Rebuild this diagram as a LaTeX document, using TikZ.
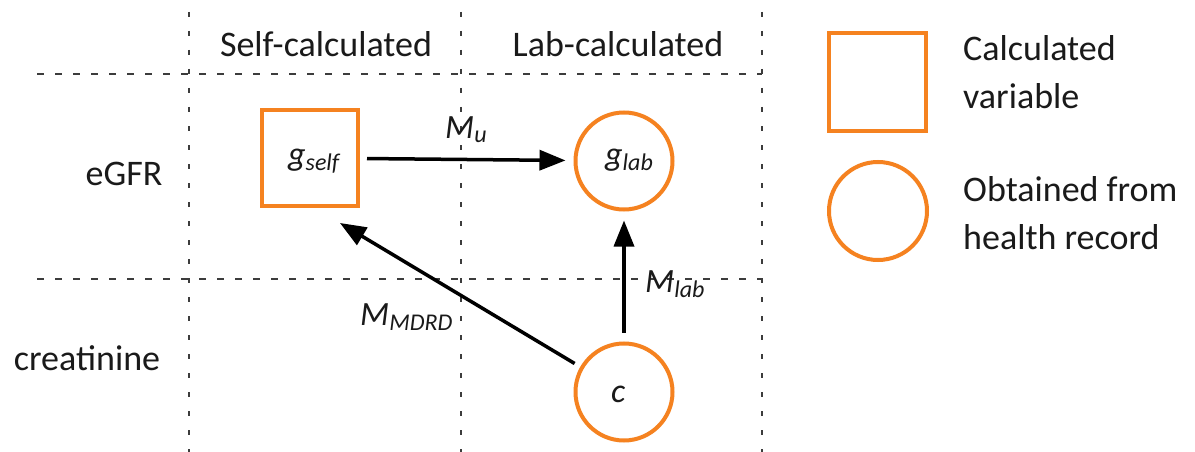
\documentclass[tikz,border=0pt]{standalone}
\usepackage{fontspec}
\setmainfont{Carlito}
\usetikzlibrary{arrows.meta,calc}
\definecolor{orng}{RGB}{245,130,32}
\definecolor{txt}{RGB}{26,26,26}
\definecolor{dsh}{RGB}{60,60,60}
\newcommand{\mlab}[2]{{\fontsize{34}{34}\selectfont\itshape #1\raisebox{-5pt}{\fontsize{24}{24}\selectfont #2}}}
\begin{document}
\begin{tikzpicture}[x=1pt,y=-1pt,
  vdash/.style={draw=dsh,line width=1.4pt,dash pattern=on 5pt off 14pt},
  hdash/.style={draw=dsh,line width=1.4pt,dash pattern=on 7pt off 11pt},
  sq/.style={draw=orng,line width=4pt,rectangle,minimum size=96pt,inner sep=0pt},
  circ/.style={draw=orng,line width=4pt,circle,minimum size=97pt,inner sep=0pt},
  arr/.style={line width=3.5pt,draw=black,-{Triangle[length=26pt,width=20pt]}},
  lbl/.style={text=txt,inner sep=0pt,font=\fontsize{36}{36}\selectfont},
  leg/.style={text=txt,inner sep=0pt,align=left,font=\fontsize{36}{48}\selectfont},
  ml/.style={text=txt,inner sep=0pt,anchor=base west}
]
\useasboundingbox[fill=white] (0,0) rectangle (1195,452);
% grid
\coordinate (v1t) at (189,12); \coordinate (v1b) at (189,452);
\coordinate (v2t) at (461,12); \coordinate (v2b) at (461,452);
\coordinate (v3t) at (762,12); \coordinate (v3b) at (762,452);
\coordinate (h1l) at (37,74);  \coordinate (h1r) at (762,74);
\coordinate (h2l) at (37,279); \coordinate (h2r) at (762,279);
\draw[vdash] (v1t) -- (v1b);
\draw[vdash] (v2t) -- (v2b);
\draw[vdash] (v3t) -- (v3b);
\draw[hdash] (h1l) -- (h1r);
\draw[hdash] (h2l) -- (h2r);
% headers
\node[lbl,anchor=base] (hself) at (326,57) {Self-calculated};
\node[lbl,anchor=base] (hlab) at (618,57) {Lab-calculated};
\node[lbl,anchor=base] (regfr) at (124,185) {eGFR};
\node[lbl,anchor=base] (rcre) at (87,370) {creatinine};
% nodes
\node[sq] (gself) at (310,158) {};
\node[circ] (glab) at (624,161) {};
\node[circ] (c) at (624,392) {};
\node[ml] (tgself) at (288,165) {\mlab{g}{self}};
\node[ml] (tglab) at (605,165) {\mlab{g}{lab}};
\node[ml] (tc) at (611,402) {\fontsize{34}{34}\selectfont\itshape c};
% arrows
\draw[arr,shorten <=7pt,shorten >=8pt] (gself) -- (glab);
\draw[arr,shorten <=9pt,shorten >=9pt] (c.north) -- (glab.south);
\draw[arr] ($(c.center)+(210:57)$) -- ($(gself.south east)+(-20,15)$);
% edge labels
\node[ml] (lmu) at (445,138) {\mlab{M}{u}};
\node[ml] (lmdrd) at (360,325) {\mlab{M}{MDRD}};
\node[ml] (lmlab) at (645,292) {\mlab{M}{lab}};
% legend
\node[sq,minimum size=97pt] (legsq) at (877,82) {};
\node[circ,minimum size=98pt] (legci) at (878,211) {};
\node[leg,anchor=west] (legt1) at (963,72) {Calculated\\variable};
\node[leg,anchor=west] (legt2) at (963,213) {Obtained from\\health record};
\end{tikzpicture}
\end{document}
